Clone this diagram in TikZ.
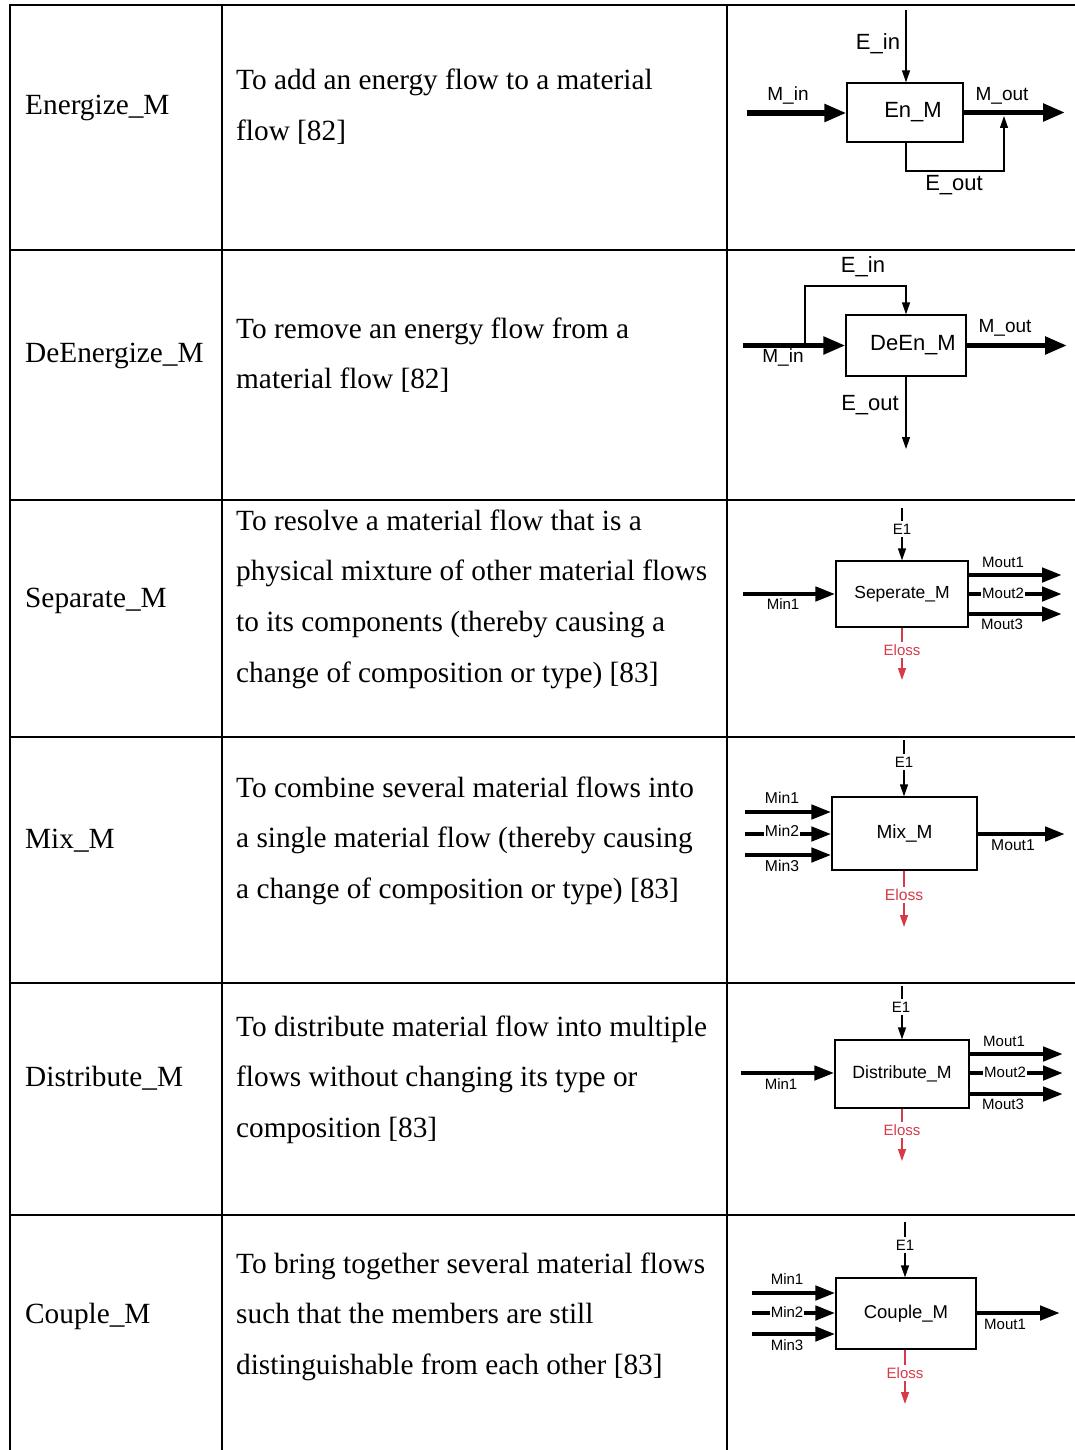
\documentclass[tikz,border=0pt]{standalone}
\usepackage{fontspec}
\setmainfont{Liberation Serif}
\setsansfont{Liberation Sans}
\usetikzlibrary{arrows.meta}
\definecolor{lossred}{RGB}{215,58,73}
\newcommand{\descfont}{\fontsize{29.3}{50.7}\selectfont}
\tikzset{
  rule/.style={line width=2pt},
  rowname/.style={anchor=base west, inner sep=0pt, font=\descfont},
  rowdesc/.style={anchor=base west, inner sep=0pt, font=\descfont},
  fbox/.style={draw, line width=1.3pt, inner sep=0pt},
  bigflow/.style={line width=5.2pt, -{Triangle[length=22pt,width=17pt]}},
  mflow/.style={line width=4.5pt, -{Triangle[length=20pt,width=14pt]}},
  eflow/.style={line width=1.3pt, -{Triangle[length=12pt,width=8pt]}},
  lossflow/.style={eflow, draw=lossred, fill=lossred},
  biglab/.style={font=\sffamily\fontsize{22}{22}\selectfont, inner sep=0pt},
  midlab/.style={font=\sffamily\fontsize{19}{19}\selectfont, inner sep=0pt},
  smlab/.style={font=\sffamily\fontsize{15}{15}\selectfont, inner xsep=0.8pt, inner ysep=2.5pt, fill=white},
  losslab/.style={smlab, text=lossred},
}
\begin{document}
\begin{tikzpicture}[x=1pt,y=-1pt]
\useasboundingbox (0,0) rectangle (1075,1450);

% ---------- table rules ----------
\foreach \yy in {5,250,500,737,983,1215}
  \draw[rule] (9,\yy) -- (1075,\yy);
\foreach \xx in {10,222,727}
  \draw[rule] (\xx,4) -- (\xx,1450);

% ---------- first column ----------
\node[rowname] (n1) at (25,115) {Energize\_M};
\node[rowname] (n2) at (25,362) {DeEnergize\_M};
\node[rowname] (n3) at (25,607) {Separate\_M};
\node[rowname] (n4) at (25,848) {Mix\_M};
\node[rowname] (n5) at (25,1086) {Distribute\_M};
\node[rowname] (n6) at (25,1323) {Couple\_M};

% ---------- second column ----------
\node[rowdesc] (d1) at (236,90) {\parbox[t]{485pt}{\raggedright\descfont
  To add an energy flow to a material\\flow [82]}};
\node[rowdesc] (d2) at (236,338) {\parbox[t]{485pt}{\raggedright\descfont
  To remove an energy flow from a\\material flow [82]}};
\node[rowdesc] (d3) at (236,530) {\parbox[t]{485pt}{\raggedright\descfont
  To resolve a material flow that is a\\physical mixture of other material flows\\to its components (thereby causing a\\change of composition or type) [83]}};
\node[rowdesc] (d4) at (236,797) {\parbox[t]{485pt}{\raggedright\descfont
  To combine several material flows into\\a single material flow (thereby causing\\a change of composition or type) [83]}};
\node[rowdesc] (d5) at (236,1036) {\parbox[t]{485pt}{\raggedright\descfont
  To distribute material flow into multiple\\flows without changing its type or\\composition [83]}};
\node[rowdesc] (d6) at (236,1273) {\parbox[t]{485pt}{\raggedright\descfont
  To bring together several material flows\\such that the members are still\\distinguishable from each other [83]}};

% ---------- Energize: En_M ----------
\node[fbox, minimum width=116pt, minimum height=59pt,
  label={[biglab, xshift=8pt]center:En\_M}] (en) at (905,112.5) {};
\coordinate (en-min) at (747,113);
\coordinate (en-mout) at (1065,113);
\coordinate (en-ein) at (906,10);
\coordinate (en-eout) at (1004,171);
\coordinate (en-eend) at (1004,116);
\draw[bigflow] (en-min) -- (en-min -| en.west);
\draw[bigflow] (en.east) -- (en.east -| en-mout);
\draw[eflow] (en-ein) -- (en-ein |- en.north);
\draw[eflow] (en-ein |- en.south) -- (en-ein |- en-eout) -- (en-eout) -- (en-eend);
\node[midlab] (en-l1) at (788,96) {M\_in};
\node[midlab] (en-l2) at (1002,96) {M\_out};
\node[biglab] (en-l3) at (878,44) {E\_in};
\node[biglab] (en-l4) at (954,185) {E\_out};

% ---------- DeEnergize: DeEn_M ----------
\node[fbox, minimum width=120pt, minimum height=61pt,
  label={[biglab, xshift=7pt]center:DeEn\_M}] (dn) at (906,345.5) {};
\coordinate (dn-min) at (743,345.5);
\coordinate (dn-br) at (805,345.5);
\coordinate (dn-etop) at (805,286);
\coordinate (dn-mout) at (1067,345.5);
\coordinate (dn-eout) at (906,449);
\draw[eflow] (dn-br) -- (dn-etop) -- (dn-etop -| dn.north) -- (dn.north);
\draw[bigflow] (dn-min) -- (dn.west);
\draw[bigflow] (dn.east) -- (dn-mout);
\draw[eflow] (dn.south) -- (dn-eout);
\node[midlab] (dn-l1) at (783,358) {M\_in};
\node[midlab] (dn-l2) at (1005,328) {M\_out};
\node[biglab] (dn-l3) at (863,267) {E\_in};
\node[biglab] (dn-l4) at (870,405) {E\_out};

% ---------- Separate: Seperate_M ----------
\node[fbox, minimum width=132pt, minimum height=66pt,
  font=\sffamily\fontsize{17.5}{17.5}\selectfont] (sp) at (902,594) {Seperate\_M};
\coordinate (sp-e) at (902,508);
\coordinate (sp-min) at (743,594);
\coordinate (sp-o1) at (1062,575);
\coordinate (sp-o2) at (1062,594);
\coordinate (sp-o3) at (1062,614);
\coordinate (sp-loss) at (902,680);
\draw[eflow] (sp-e) -- (sp.north);
\draw[mflow] (sp-min) -- (sp.west);
\draw[mflow] (sp-o1 -| sp.east) -- (sp-o1);
\draw[mflow] (sp-o2 -| sp.east) -- (sp-o2);
\draw[mflow] (sp-o3 -| sp.east) -- (sp-o3);
\draw[lossflow] (sp.south) -- (sp-loss);
\node[smlab] (sp-l1) at (902,529) {E1};
\node[smlab, fill=none] (sp-l2) at (783,604) {Min1};
\node[smlab, fill=none] (sp-l3) at (1003,562) {Mout1};
\node[smlab] (sp-l4) at (1003,593) {Mout2};
\node[smlab, fill=none] (sp-l5) at (1002,624) {Mout3};
\node[losslab] (sp-l6) at (902,650) {Eloss};

% ---------- Mix: Mix_M ----------
\node[fbox, minimum width=145pt, minimum height=73pt,
  font=\sffamily\fontsize{19}{19}\selectfont] (mx) at (904.5,833.5) {Mix\_M};
\coordinate (mx-e) at (904,740);
\coordinate (mx-i1) at (745,812);
\coordinate (mx-i2) at (745,834);
\coordinate (mx-i3) at (745,855);
\coordinate (mx-out) at (1065,834);
\coordinate (mx-loss) at (904,927);
\draw[eflow] (mx-e) -- (mx-e |- mx.north);
\draw[mflow] (mx-i1) -- (mx-i1 -| mx.west);
\draw[mflow] (mx-i2) -- (mx-i2 -| mx.west);
\draw[mflow] (mx-i3) -- (mx-i3 -| mx.west);
\draw[mflow] (mx-out -| mx.east) -- (mx-out);
\draw[lossflow] (mx-loss |- mx.south) -- (mx-loss);
\node[smlab] (mx-l1) at (904,762) {E1};
\node[smlab, fill=none, font=\sffamily\fontsize{15.7}{15.7}\selectfont] (mx-l2) at (782,798) {Min1};
\node[smlab, font=\sffamily\fontsize{15.7}{15.7}\selectfont] (mx-l3) at (782,831) {Min2};
\node[smlab, fill=none, font=\sffamily\fontsize{15.7}{15.7}\selectfont] (mx-l4) at (782,866) {Min3};
\node[smlab, fill=none, font=\sffamily\fontsize{15.7}{15.7}\selectfont] (mx-l5) at (1013,845) {Mout1};
\node[losslab, font=\sffamily\fontsize{15.7}{15.7}\selectfont] (mx-l6) at (904,895) {Eloss};

% ---------- Distribute: Distribute_M ----------
\node[fbox, minimum width=134pt, minimum height=68pt,
  font=\sffamily\fontsize{17.7}{17.7}\selectfont] (ds) at (902,1074) {Distribute\_M};
\coordinate (ds-e) at (902,986);
\coordinate (ds-min) at (741,1073);
\coordinate (ds-o1) at (1063,1054);
\coordinate (ds-o2) at (1063,1073);
\coordinate (ds-o3) at (1063,1094);
\coordinate (ds-loss) at (902,1161);
\draw[eflow] (ds-e) -- (ds.north);
\draw[mflow] (ds-min) -- (ds-min -| ds.west);
\draw[mflow] (ds-o1 -| ds.east) -- (ds-o1);
\draw[mflow] (ds-o2 -| ds.east) -- (ds-o2);
\draw[mflow] (ds-o3 -| ds.east) -- (ds-o3);
\draw[lossflow] (ds.south) -- (ds-loss);
\node[smlab] (ds-l1) at (901,1007) {E1};
\node[smlab, fill=none] (ds-l2) at (781,1084) {Min1};
\node[smlab, fill=none] (ds-l3) at (1004,1041) {Mout1};
\node[smlab] (ds-l4) at (1005,1072) {Mout2};
\node[smlab, fill=none] (ds-l5) at (1003,1104) {Mout3};
\node[losslab] (ds-l6) at (902,1130) {Eloss};

% ---------- Couple: Couple_M ----------
\node[fbox, minimum width=140pt, minimum height=71pt,
  font=\sffamily\fontsize{18.5}{18.5}\selectfont] (cp) at (906,1313.5) {Couple\_M};
\coordinate (cp-e) at (905,1222);
\coordinate (cp-i1) at (752,1293);
\coordinate (cp-i2) at (752,1313);
\coordinate (cp-i3) at (752,1334);
\coordinate (cp-out) at (1060,1313);
\coordinate (cp-loss) at (905,1404);
\draw[eflow] (cp-e) -- (cp-e |- cp.north);
\draw[mflow] (cp-i1) -- (cp-i1 -| cp.west);
\draw[mflow] (cp-i2) -- (cp-i2 -| cp.west);
\draw[mflow] (cp-i3) -- (cp-i3 -| cp.west);
\draw[mflow] (cp-out -| cp.east) -- (cp-out);
\draw[lossflow] (cp-loss |- cp.south) -- (cp-loss);
\node[smlab] (cp-l1) at (905,1245) {E1};
\node[smlab, fill=none] (cp-l2) at (787,1279) {Min1};
\node[smlab] (cp-l3) at (787,1312) {Min2};
\node[smlab, fill=none] (cp-l4) at (787,1345) {Min3};
\node[smlab, fill=none] (cp-l5) at (1005,1324) {Mout1};
\node[losslab] (cp-l6) at (905,1373) {Eloss};
\end{tikzpicture}
\end{document}
